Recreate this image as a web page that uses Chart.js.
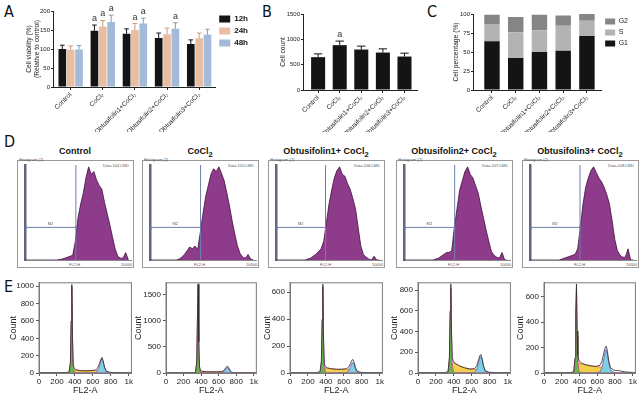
<!DOCTYPE html>
<html>
<head>
<meta charset="utf-8">
<script src="https://cdn.jsdelivr.net/npm/chart.js@4.4.0/dist/chart.umd.min.js"></script>
<style>
body { margin: 0; width: 642px; height: 396px; overflow: hidden; position: relative; background: #fff; font-family: Arial, "Liberation Sans", sans-serif; }
canvas { position: absolute; }
.letter { position: absolute; font-family: "Liberation Sans Narrow", "DejaVu Sans Condensed", sans-serif; font-size: 16px; color: #111; }
.dtitle { position: absolute; width: 116px; text-align: center; font-weight: bold; font-size: 9px; color: #111; }
.dbox { position: absolute; width: 115px; height: 106px; border: 1px solid #9a9a9a; }
.tiny { position: absolute; font-size: 4px; color: #555; white-space: nowrap; }
</style>
</head>
<body>

<div class="letter" style="left:4px;top:2px">A</div>
<div class="letter" style="left:262px;top:2px">B</div>
<div class="letter" style="left:427px;top:2px">C</div>
<div class="letter" style="left:4px;top:132px">D</div>
<div class="letter" style="left:4px;top:277px">E</div>

<canvas id="chartA" width="258" height="132" style="left:0;top:0"></canvas>
<canvas id="chartB" width="160" height="132" style="left:262px;top:0"></canvas>
<canvas id="chartC" width="210" height="132" style="left:432px;top:0"></canvas>

<div id="dpanels"></div>

<canvas id="e1" width="134" height="120" style="left:0;top:276px"></canvas>
<canvas id="e2" width="131" height="120" style="left:128px;top:276px"></canvas>
<canvas id="e3" width="130" height="120" style="left:255px;top:276px"></canvas>
<canvas id="e4" width="130" height="120" style="left:383px;top:276px"></canvas>
<canvas id="e5" width="129" height="120" style="left:509px;top:276px"></canvas>

<script>
// ---- data ----
const groups = ['Control', 'CoCl₂', 'Obtusifolin1+CoCl₂', 'Obtusifolin2+CoCl₂', 'Obtusifolin3+CoCl₂'];

// A: cell viability
const via12 = [100, 148, 140, 129, 113];
const via24 = [98, 159, 150, 139, 128];
const via48 = [99, 171, 167, 153, 138];
const err12 = [10, 15, 13, 13, 11];
const err24 = [10, 16, 17, 16, 14];
const err48 = [10, 18, 14, 16, 14];
const sig12 = ['', 'a', '', '', ''];
const sig24 = ['', 'a', 'a', '', ''];
const sig48 = ['', 'a', 'a', 'a', ''];

// B: cell count
const counts = [648, 885, 799, 739, 660];
const countErr = [65, 80, 67, 73, 67];
const countSig = ['', 'a', '', '', ''];

// C: cell cycle (%)
const g1Pct = [64, 42, 50, 51.5, 71];
const sPct = [23, 34, 28.5, 33, 20];
const g2Pct = [12, 20, 20.5, 13.5, 9];

// D: FL2-H histograms (channel, relative counts)
const dChannels = [0, 25, 50, 75, 100, 125, 150, 175, 200, 225, 250, 275, 300, 325, 350, 375, 400, 425, 450, 475,
                   500, 525, 550, 575, 600, 625, 650, 675, 700, 725, 750, 775, 800, 825, 850, 875, 900, 925, 950, 975];
const dTitles = ['Control', 'CoCl<sub>2</sub>', 'Obtusifolin1+ CoCl<sub>2</sub>', 'Obtusifolin2+ CoCl<sub>2</sub>', 'Obtusifolin3+ CoCl<sub>2</sub>'];
const dFiles = ['Data.104.LMD', 'Data.105.LMD', 'Data.106.LMD', 'Data.107.LMD', 'Data.108.LMD'];
const histControl = [0,0,0,0,0,0,0,0,0,0,0,0,0,0.5,1,2,3,4,5,20,45,60,72,88,100,92,95,86,80,76,62,50,38,25,12,4,2,2,8,0];
const histCoCl = [0,0,0,0,0,0,0,0,0,0,0,1,3,6,10,14,12,15,11,30,50,68,80,92,98,95,100,93,85,72,58,42,28,15,7,3,2,6,1,0];
const histOb1 = [0,0,0,0,0,0,0,0,0,0,0,0,1,2,4,6,9,12,20,40,60,75,88,96,100,92,90,82,76,66,55,35,15,6,3,1,0,4,0,0];
const histOb2 = [0,0,0,0,0,0,0,0,0,0,0,0,1,2,4,6,8,8,10,35,55,75,85,95,100,92,88,80,72,58,45,32,20,9,5,3,2,8,0,0];
const histOb3 = [0,0,0,0,0,0,0,0,0,0,0,0,1,2,3,4,5,6,12,35,60,78,88,96,100,94,88,84,78,70,60,42,22,10,5,3,3,12,0,0];
const dGate = [480, 477, 467, 478, 472];
const dMarker = [35, 35, 35, 35, 35];

// E: FL2-A cell cycle fits
const eChannels = [0, 150, 300, 335, 350, 358, 366, 374, 382, 395, 420, 460, 520, 580, 630, 655, 675, 690, 702, 715, 730, 750, 790, 850, 920, 1023];
const eXTicks = [0, 200, 400, 600, 800, 1000];
const eYTicks1 = [0, 200, 400, 600, 800, 1000];
const eYTicks2 = [0, 500, 1000, 1500];
const eYTicks3 = [0, 200, 400, 600];
const eYTicks4 = [0, 200, 400, 600, 800];
const eYTicks5 = [0, 200, 400, 600];
const total1 = [4,4,5,10,120,600,1020,380,90,50,35,28,25,28,35,60,110,160,180,140,70,20,8,5,4,3];
const g1Fit1 = [0,0,0,8,115,590,1000,360,60,10,0,0,0,0,0,0,0,0,0,0,0,0,0,0,0,0];
const sFit1 = [0,0,0,0,5,10,15,20,28,35,32,28,25,27,30,30,25,20,12,6,2,0,0,0,0,0];
const g2Fit1 = [0,0,0,0,0,0,0,0,0,0,0,0,0,0,5,30,85,140,165,130,65,18,2,0,0,0];
const total2 = [3,3,4,10,200,1000,1700,600,120,45,30,25,22,22,28,45,85,120,130,100,45,12,5,3,3,2];
const g1Fit2 = [0,0,0,8,190,990,1680,580,90,10,0,0,0,0,0,0,0,0,0,0,0,0,0,0,0,0];
const sFit2 = [0,0,0,0,5,10,15,20,25,30,28,25,22,22,25,25,22,18,12,6,2,0,0,0,0,0];
const g2Fit2 = [0,0,0,0,0,0,0,0,0,0,0,0,0,0,3,20,60,95,105,80,40,10,1,0,0,0];
const total3 = [2,2,3,10,90,400,660,250,70,45,38,32,28,28,32,45,70,95,100,80,40,12,5,3,2,2];
const g1Fit3 = [0,0,0,8,85,390,640,235,50,8,0,0,0,0,0,0,0,0,0,0,0,0,0,0,0,0];
const sFit3 = [0,0,0,0,5,10,15,22,28,35,34,30,27,27,28,28,24,18,12,6,2,0,0,0,0,0];
const g2Fit3 = [0,0,0,0,0,0,0,0,0,0,0,0,0,0,4,18,48,72,78,62,30,8,1,0,0,0];
const total4 = [3,3,4,12,150,600,860,400,150,110,90,70,50,38,42,70,130,170,178,140,70,20,8,4,3,3];
const g1Fit4 = [0,0,0,10,140,580,820,330,70,15,0,0,0,0,0,0,0,0,0,0,0,0,0,0,0,0];
const sFit4 = [0,0,0,0,10,25,50,75,90,100,88,68,50,38,36,34,28,22,14,7,3,0,0,0,0,0];
const g2Fit4 = [0,0,0,0,0,0,0,0,0,0,0,0,0,0,6,35,100,145,160,125,65,18,2,0,0,0];
const total5 = [2,2,3,10,120,480,700,330,140,95,80,68,58,52,60,95,160,200,212,170,95,40,22,18,8,3];
const g1Fit5 = [0,0,0,8,110,460,680,290,80,15,0,0,0,0,0,0,0,0,0,0,0,0,0,0,0,0];
const sFit5 = [0,0,0,0,8,20,40,60,72,78,72,64,56,50,48,46,38,28,18,9,4,0,0,0,0,0];
const g2Fit5 = [0,0,0,0,0,0,0,0,0,0,0,0,0,0,8,45,115,170,185,150,80,25,3,0,0,0];

// ---- setup ----
Chart.defaults.font.family = 'Arial, "Liberation Sans", sans-serif';
Chart.defaults.color = '#222';
Chart.defaults.animation = false;
Chart.defaults.plugins.tooltip.enabled = false;

const xy = (xs, ys) => ys.map((v, i) => ({ x: xs[i], y: v }));
const idx = ys => ys.map((v, i) => ({ x: i, y: v }));

// error bars (upper only) and significance letters
const barExtras = {
    id: 'barExtras',
    afterDatasetsDraw(chart) {
        const ctx = chart.ctx;
        const y = chart.scales.y;
        chart.data.datasets.forEach((ds, di) => {
            if (!ds.errors) return;
            chart.getDatasetMeta(di).data.forEach((bar, i) => {
                const top = y.getPixelForValue(ds.data[i].y + ds.errors[i]);
                const cap = bar.width * 0.3;
                ctx.save();
                ctx.strokeStyle = ds.errColor;
                ctx.lineWidth = 1;
                ctx.beginPath();
                ctx.moveTo(bar.x, bar.y);
                ctx.lineTo(bar.x, top);
                ctx.moveTo(bar.x - cap, top);
                ctx.lineTo(bar.x + cap, top);
                ctx.stroke();
                if (ds.sig && ds.sig[i]) {
                    ctx.fillStyle = '#333';
                    ctx.font = '9px Arial';
                    ctx.textAlign = 'center';
                    ctx.textBaseline = 'bottom';
                    ctx.fillText(ds.sig[i], bar.x, top - 2);
                }
                ctx.restore();
            });
        });
    }
};

function barScales(yMax, yStep, yTitle, titleOff, xMin, xMax, yW, xH, stacked) {
    return {
        x: {
            type: 'linear', min: xMin, max: xMax, offset: false, stacked: stacked,
            afterBuildTicks: s => { s.ticks = groups.map((g, i) => ({ value: i })); },
            afterFit: s => { s.height = xH; },
            ticks: { callback: v => groups[v], minRotation: 45, maxRotation: 45, autoSkip: false, font: { size: 6.5 }, padding: 1 },
            grid: { drawOnChartArea: false, offset: false, tickLength: 3, color: '#222' },
            border: { color: '#222' }
        },
        y: {
            min: 0, max: yMax, stacked: stacked,
            afterFit: s => { s.width = yW; },
            ticks: { stepSize: yStep, callback: v => String(v), font: { size: 6 }, padding: 1 },
            grid: { drawOnChartArea: false, tickLength: 2, color: '#222' },
            border: { color: '#222' },
            title: { display: true, text: yTitle, font: { size: 6.7 }, padding: { top: titleOff, bottom: 0 } }
        }
    };
}

// ---- A ----
new Chart(document.getElementById('chartA'), {
    type: 'bar',
    data: {
        datasets: [
            { label: '12h', data: idx(via12), errors: err12, sig: sig12, backgroundColor: '#141414', errColor: '#141414' },
            { label: '24h', data: idx(via24), errors: err24, sig: sig24, backgroundColor: '#e9bea0', errColor: '#c99a7c' },
            { label: '48h', data: idx(via48), errors: err48, sig: sig48, backgroundColor: '#a2bbdb', errColor: '#7f9cc4' }
        ]
    },
    options: {
        responsive: false, devicePixelRatio: 1,
        categoryPercentage: 0.78, barPercentage: 0.92,
        layout: { padding: { top: 11, left: 0, right: 0, bottom: 0 } },
        plugins: {
            legend: { position: 'right', align: 'start', fullSize: false, labels: { boxWidth: 11, boxHeight: 7, padding: 4, font: { size: 8, weight: 'bold' }, color: '#111' } }
        },
        scales: barScales(200, 50, ['Cell viability (%)', '(Relative to control)'], 25, -0.55, 4.5, 53, 45, false)
    },
    plugins: [barExtras]
});

// ---- B ----
new Chart(document.getElementById('chartB'), {
    type: 'bar',
    data: {
        datasets: [
            { label: 'Cell count', data: idx(counts), errors: countErr, sig: countSig, backgroundColor: '#141414', errColor: '#141414' }
        ]
    },
    options: {
        responsive: false, devicePixelRatio: 1,
        categoryPercentage: 1, barPercentage: 0.65,
        layout: { padding: { top: 14, left: 0, right: 5, bottom: 0 } },
        plugins: { legend: { display: false } },
        scales: barScales(1500, 500, 'Cell count', 17, -0.7, 4.58, 41, 42, false)
    },
    plugins: [barExtras]
});

// ---- C ----
new Chart(document.getElementById('chartC'), {
    type: 'bar',
    data: {
        datasets: [
            { label: 'G1', data: idx(g1Pct), backgroundColor: '#141414' },
            { label: 'S', data: idx(sPct), backgroundColor: '#b3b3b3' },
            { label: 'G2', data: idx(g2Pct), backgroundColor: '#858585' }
        ]
    },
    options: {
        responsive: false, devicePixelRatio: 1,
        categoryPercentage: 1, barPercentage: 0.65,
        layout: { padding: { top: 14, left: 0, right: 4, bottom: 0 } },
        plugins: {
            legend: { position: 'right', align: 'start', reverse: true, labels: { boxWidth: 10, boxHeight: 6, padding: 4, font: { size: 7 }, color: '#222' } }
        },
        scales: barScales(100, 25, 'Cell percentage (%)', 20, -0.8, 4.6, 41, 42, true)
    }
});

// ---- D ----
const gatePlugin = {
    id: 'gate',
    afterDatasetsDraw(chart, args, opts) {
        const { ctx, chartArea: a } = chart;
        const gx = chart.scales.x.getPixelForValue(opts.at);
        const my = chart.scales.y.getPixelForValue(opts.level);
        ctx.save();
        ctx.strokeStyle = '#6f7fae';
        ctx.lineWidth = 1;
        ctx.beginPath();
        ctx.moveTo(gx, a.top);
        ctx.lineTo(gx, a.bottom);
        ctx.moveTo(a.left, my);
        ctx.lineTo(gx, my);
        ctx.moveTo(a.left + 1, my - 2);
        ctx.lineTo(a.left + 1, my + 2);
        ctx.moveTo(gx, my - 2);
        ctx.lineTo(gx, my + 2);
        ctx.stroke();
        ctx.fillStyle = '#555';
        ctx.font = '4px Arial';
        ctx.textAlign = 'center';
        ctx.fillText('M2', (a.left + gx) / 2, my - 2);
        ctx.restore();
    }
};

const dBoxLeft = [17, 142, 268, 396, 522];
const dHists = [histControl, histCoCl, histOb1, histOb2, histOb3];
const dWrap = document.getElementById('dpanels');

dHists.forEach((h, k) => {
    const left = dBoxLeft[k];
    dWrap.insertAdjacentHTML('beforeend',
        `<div class="dtitle" style="left:${left}px;top:146px">${dTitles[k]}</div>
         <div class="dbox" style="left:${left}px;top:160px"></div>
         <div class="tiny" style="left:${left + 2}px;top:157px">Histogram (2)</div>
         <div class="tiny" style="left:${left + 86}px;top:163px">${dFiles[k]}</div>
         <div class="tiny" style="left:${left + 52}px;top:262px">FL2-H</div>
         <div class="tiny" style="left:${left + 104}px;top:262px">10000</div>
         <canvas id="d${k}" width="115" height="106" style="left:${left + 1}px;top:161px"></canvas>`);
});

dHists.forEach((h, k) => {
    new Chart(document.getElementById('d' + k), {
        type: 'line',
        data: {
            datasets: [{ data: xy(dChannels, h), borderColor: '#3d1239', backgroundColor: '#8d3b8a', borderWidth: 0.8, fill: 'origin', pointRadius: 0, tension: 0 }]
        },
        options: {
            responsive: false, devicePixelRatio: 1,
            layout: { padding: { left: 7, right: 2, top: 4, bottom: 7 } },
            plugins: { legend: { display: false }, gate: { at: dGate[k], level: dMarker[k] } },
            scales: {
                x: {
                    type: 'linear', min: 0, max: 1000,
                    afterFit: s => { s.height = 0; },
                    ticks: { display: false }, grid: { display: false },
                    border: { color: '#888', width: 1 }
                },
                y: {
                    min: 0, max: 102,
                    afterFit: s => { s.width = 0; },
                    ticks: { display: false }, grid: { display: false },
                    border: { color: '#60647e', width: 2.5 }
                }
            }
        },
        plugins: [gatePlugin]
    });
});

// ---- E ----
const frame = {
    id: 'frame',
    afterDraw(chart) {
        const { ctx, chartArea: a } = chart;
        ctx.save();
        ctx.strokeStyle = '#7a7a7a';
        ctx.lineWidth = 1;
        ctx.strokeRect(a.left, a.top, a.right - a.left, a.bottom - a.top);
        ctx.restore();
    }
};

function makeFlow(id, yMax, yTicks, yW, padTop, titleOff, total, g1, s, g2) {
    new Chart(document.getElementById(id), {
        type: 'line',
        data: {
            datasets: [
                { data: xy(eChannels, total), borderColor: '#2a2a2a', borderWidth: 0.8, fill: false },
                { data: xy(eChannels, g1), borderColor: '#c04a9a', backgroundColor: '#63b947', borderWidth: 0.8, fill: 'origin' },
                { data: xy(eChannels, g2), borderColor: '#7a58b0', backgroundColor: '#7dd0e3', borderWidth: 0.8, fill: 'origin' },
                { data: xy(eChannels, s), borderColor: '#e0703a', backgroundColor: '#f3cf4e', borderWidth: 0.8, fill: 'origin' }
            ]
        },
        options: {
            responsive: false, devicePixelRatio: 1,
            elements: { point: { radius: 0 }, line: { tension: 0 } },
            layout: { padding: { left: 0, right: 2, top: padTop, bottom: 0 } },
            plugins: { legend: { display: false } },
            scales: {
                x: {
                    type: 'linear', min: 0, max: 1030,
                    afterBuildTicks: sc => { sc.ticks = eXTicks.map(v => ({ value: v })); },
                    afterFit: sc => { sc.height = 23; },
                    ticks: { callback: v => v === 1000 ? '1k' : String(v), font: { size: 8 }, padding: 1, maxRotation: 0 },
                    grid: { drawOnChartArea: false, tickLength: 3, color: '#555' },
                    border: { color: '#7a7a7a' },
                    title: { display: true, text: 'FL2-A', font: { size: 9 }, padding: 0 }
                },
                y: {
                    min: 0, max: yMax,
                    afterBuildTicks: sc => { sc.ticks = yTicks.map(v => ({ value: v })); },
                    afterFit: sc => { sc.width = yW; },
                    ticks: { callback: v => String(v), font: { size: 8 }, padding: 2 },
                    grid: { drawOnChartArea: false, tickLength: 3, color: '#555' },
                    border: { color: '#7a7a7a' },
                    title: { display: true, text: 'Count', font: { size: 9 }, padding: { top: titleOff, bottom: 0 } }
                }
            }
        },
        plugins: [frame]
    });
}

makeFlow('e1', 1040, eYTicks1, 39, 6, 8, total1, g1Fit1, sFit1, g2Fit1);
makeFlow('e2', 1720, eYTicks2, 38, 5, 5, total2, g1Fit2, sFit2, g2Fit2);
makeFlow('e3', 670, eYTicks3, 35, 5, 7, total3, g1Fit3, sFit3, g2Fit3);
makeFlow('e4', 870, eYTicks4, 35, 5, 6, total4, g1Fit4, sFit4, g2Fit4);
makeFlow('e5', 710, eYTicks5, 35, 5, 6, total5, g1Fit5, sFit5, g2Fit5);
</script>
</body>
</html>
